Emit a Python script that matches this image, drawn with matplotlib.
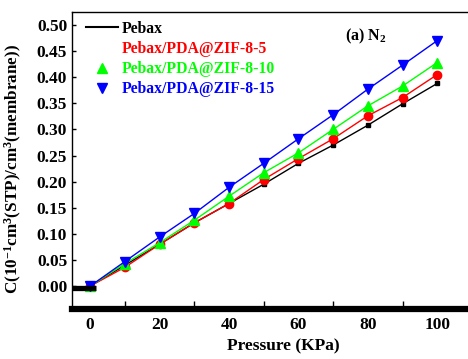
import matplotlib
matplotlib.use("Agg")
import matplotlib.pyplot as plt
from matplotlib.lines import Line2D

# ----------------------------
# Data
# ----------------------------
pressure = [0, 10, 20, 30, 40, 50, 60, 70, 80, 90, 100]
pebax = [0.000, 0.040, 0.080, 0.121, 0.158, 0.195, 0.235, 0.270, 0.308, 0.349, 0.388]
zif5 = [0.000, 0.036, 0.080, 0.121, 0.158, 0.204, 0.244, 0.282, 0.326, 0.361, 0.405]
zif10 = [0.000, 0.043, 0.083, 0.126, 0.172, 0.217, 0.255, 0.300, 0.345, 0.383, 0.428]
zif15 = [0.000, 0.047, 0.094, 0.139, 0.189, 0.235, 0.282, 0.328, 0.377, 0.423, 0.470]

labels = ["Pebax", "Pebax/PDA@ZIF-8-5", "Pebax/PDA@ZIF-8-10", "Pebax/PDA@ZIF-8-15"]
colors = ["black", "red", "#00ff00", "blue"]
yticks = [0.00, 0.05, 0.10, 0.15, 0.20, 0.25, 0.30, 0.35, 0.40, 0.45, 0.50]
xticks = [0, 20, 40, 60, 80, 100]
xminor = [10, 30, 50, 70, 90]

# ----------------------------
# Style
# ----------------------------
plt.rcParams["font.family"] = "Liberation Serif"
plt.rcParams["font.weight"] = "bold"
plt.rcParams["mathtext.fontset"] = "custom"
plt.rcParams["mathtext.rm"] = "Liberation Serif:bold"
plt.rcParams["mathtext.it"] = "Liberation Serif:bold"
plt.rcParams["mathtext.bf"] = "Liberation Serif:bold"
plt.rcParams["mathtext.default"] = "rm"

fig = plt.figure(figsize=(4.68, 3.59), dpi=100)
# axes runs past the right edge, like the cropped original
ax = fig.add_axes([0.154, 0.139, 0.902, 0.828])

ax.plot(pressure, pebax, color=colors[0], lw=1, marker="s", ms=3.5)
ax.plot(pressure, zif5, color=colors[1], lw=1, marker="o", ms=6)
ax.plot(pressure, zif10, color=colors[2], lw=1, marker="^", ms=6.5)
ax.plot(pressure, zif15, color=colors[3], lw=1, marker="v", ms=6.5)

xmin, xmax = -5.2, 116.4
ax.set_xlim(xmin, xmax)
ax.set_ylim(-0.044, 0.525)

# thick black stub at the origin
ax.plot([xmin, pressure[0] + 1.8], [pebax[0] - 0.004] * 2, color="black", lw=3.8,
        solid_capstyle="butt", clip_on=False)

ax.set_xticks(xticks)
ax.set_xticks(xminor, minor=True)
ax.set_yticks(yticks)
ax.set_yticklabels([f"{v:.2f}" for v in yticks])
ax.tick_params(axis="x", which="major", length=0, pad=6, labelsize=12.5)
ax.tick_params(axis="x", which="minor", direction="in", length=5.5, width=1)
ax.tick_params(axis="y", which="major", direction="in", length=3, width=1, pad=3.5, labelsize=12.5)
for t in ax.get_xticklabels() + ax.get_yticklabels():
    t.set_fontweight("bold")

ax.spines["bottom"].set_linewidth(4.5)
ax.spines["left"].set_linewidth(1)
ax.spines["top"].set_linewidth(1)
ax.spines["right"].set_visible(False)

ax.set_xlabel("Pressure (KPa)", fontsize=12.5, fontweight="bold")
ax.xaxis.set_label_coords(0.5, -0.098)
ax.set_ylabel("C(10$^{-1}$cm$^{3}$(STP)/cm$^{3}$(membrane))", fontsize=12.3,
              fontweight="bold")
ax.yaxis.set_label_coords(-0.114, 0.47)

ax.text(0.647, 0.905, "(a) N$_{2}$", transform=ax.transAxes, fontsize=11.5, fontweight="bold")

handles = [
    Line2D([], [], color=colors[0], lw=1.5),
    Line2D([], [], color=colors[1], lw=0),
    Line2D([], [], color=colors[2], lw=0, marker="^", ms=6.5),
    Line2D([], [], color=colors[3], lw=0, marker="v", ms=6.5),
]
leg = ax.legend(handles, labels, loc="upper left", frameon=False, fontsize=11.3,
                handlelength=2.0, handletextpad=0.25, labelspacing=0.27,
                bbox_to_anchor=(0.0, 1.018))
for txt, c in zip(leg.get_texts(), colors):
    txt.set_color(c)
    txt.set_fontweight("bold")

fig.savefig("out.png", dpi=100)
